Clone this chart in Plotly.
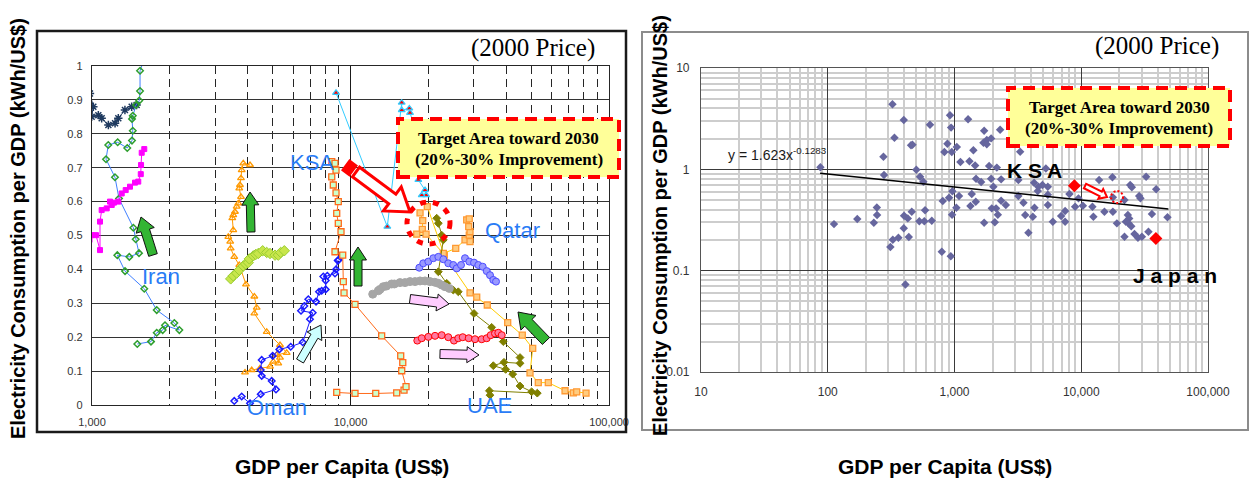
import math
import plotly.graph_objects as go

W, H = 1250, 484

# ---------------- Left panel: country trajectories (GDP per capita vs kWh/US$) ----------------
navy_x = [982, 1012, 997, 1058, 1090, 1157, 1228, 1264, 1341, 1424, 1488]
navy_y = [0.919, 0.880, 0.850, 0.855, 0.846, 0.826, 0.831, 0.846, 0.870, 0.880, 0.885]

iran_x = [1497, 1691, 1780, 1877, 1916, 2177, 2082, 1780, 1593, 1342, 1253, 1394, 1520, 1476,
          1445, 1272, 1227, 1133, 1156, 1257, 1369, 1428, 1438, 1428, 1438, 1480, 1524, 1534, 1534, 1589]
iran_y = [0.180, 0.187, 0.213, 0.221, 0.235, 0.221, 0.242, 0.280, 0.343, 0.395, 0.442, 0.437, 0.448, 0.489,
          0.523, 0.609, 0.672, 0.725, 0.767, 0.775, 0.758, 0.780, 0.809, 0.844, 0.853, 0.885, 0.898, 0.926, 0.986, 1.018]

magenta_x = [978, 997, 1036, 1074, 1074, 1090, 1140, 1192, 1174, 1216, 1264, 1303, 1350, 1403,
             1467, 1510, 1544, 1548, 1557, 1593]
magenta_y = [0.487, 0.501, 0.501, 0.457, 0.541, 0.575, 0.580, 0.590, 0.600, 0.597, 0.600, 0.624, 0.634, 0.644,
             0.656, 0.659, 0.681, 0.708, 0.744, 0.755]

orange_tri_x = [3908, 4148, 4466, 4883, 5028, 5256, 5337, 5182, 5665, 5337, 4741, 4246, 4337, 4246, 3942,
                3713, 3551, 3440, 3425, 3367, 3520, 3489, 3520, 3573, 3628, 3681, 3770, 3713, 3736, 3770,
                3794, 3848, 4086]
orange_tri_y = [0.096, 0.103, 0.108, 0.113, 0.128, 0.123, 0.140, 0.148, 0.154, 0.177, 0.216, 0.270, 0.287,
                0.320, 0.356, 0.413, 0.437, 0.462, 0.482, 0.496, 0.516, 0.551, 0.560, 0.570, 0.585, 0.595,
                0.614, 0.639, 0.649, 0.669, 0.693, 0.713, 0.708]

lime_x = [3440, 3520, 3628, 3713, 3848, 3930, 4024, 4061, 4207, 4300, 4399, 4574, 4741, 4883, 5105, 5256, 5370, 5546]
lime_y = [0.372, 0.381, 0.389, 0.398, 0.410, 0.416, 0.420, 0.431, 0.440, 0.444, 0.447, 0.455, 0.450, 0.447,
          0.442, 0.442, 0.450, 0.455]

oman_x = [3551, 3794, 4086, 4494, 5150, 4957, 4534, 4494, 4534, 5000, 5304, 5871, 6533, 6970, 7142, 6435,
          6627, 6867, 7356, 7555, 7738, 8019, 8019, 7849, 8134, 8710, 8790, 8925, 9000]
oman_y = [0.012, 0.025, 0.005, 0.032, 0.046, 0.071, 0.086, 0.103, 0.133, 0.145, 0.164, 0.172, 0.185, 0.253,
          0.272, 0.278, 0.292, 0.312, 0.305, 0.334, 0.337, 0.341, 0.367, 0.379, 0.381, 0.388, 0.400, 0.426, 0.428]

ksa_x = [8845, 10410, 12520, 15090, 16110, 16400, 15780, 15930, 15640, 13200, 10410, 9440, 9380, 9330,
         8710, 9190, 8970, 8845, 8970, 8790, 8580, 8460, 8790, 8460, 8710]
ksa_y = [0.037, 0.034, 0.034, 0.036, 0.044, 0.054, 0.101, 0.125, 0.145, 0.204, 0.297, 0.331, 0.364, 0.442,
         0.452, 0.511, 0.536, 0.565, 0.600, 0.626, 0.649, 0.673, 0.693, 0.718, 0.713]

cyan_x = [8790, 13880, 15780, 15780, 16890, 16990, 17600, 18300, 19420, 19620, 18860]
cyan_y = [0.921, 0.526, 0.892, 0.870, 0.875, 0.862, 0.826, 0.664, 0.634, 0.619, 0.619]

gold_x = [19820, 23060, 29000, 30780, 33820, 40560, 46190, 50680, 49480, 53270, 58240, 67600, 72770, 75000, 81500]
gold_y = [0.585, 0.442, 0.331, 0.318, 0.295, 0.243, 0.206, 0.167, 0.095, 0.066, 0.066, 0.042, 0.036, 0.039, 0.035]

qatar_x = [18580, 19030, 18960, 18040, 19600, 22860, 25530, 27730, 29000, 28800, 29000, 28660, 28150, 28800]
qatar_y = [0.567, 0.544, 0.518, 0.504, 0.504, 0.447, 0.462, 0.487, 0.482, 0.501, 0.511, 0.526, 0.546, 0.549]

uae_x = [34650, 34450, 52800, 50200, 45270, 42420, 39840, 35680, 39240, 45270, 45270, 38990, 35170, 30050,
         26120, 24980, 23560, 21870, 22860, 22530, 21870, 21550]
uae_y = [0.029, 0.042, 0.035, 0.039, 0.056, 0.091, 0.105, 0.116, 0.126, 0.123, 0.140, 0.187, 0.229, 0.270,
         0.334, 0.339, 0.359, 0.393, 0.487, 0.501, 0.536, 0.551]

gray_x = [12190, 12810, 13000, 13390, 13780, 14430, 14780, 15540, 16250, 16990, 17770, 18580, 19420,
          20300, 21200, 21870, 22530, 23210, 24110]
gray_y = [0.327, 0.337, 0.341, 0.349, 0.351, 0.357, 0.357, 0.361, 0.361, 0.364, 0.364, 0.366, 0.366,
          0.364, 0.362, 0.359, 0.354, 0.349, 0.344]

violet_x = [18460, 19120, 20000, 20910, 21870, 22860, 23890, 24980, 25760, 26760, 27730, 28820, 30050,
            31220, 32470, 33650, 34650, 35680, 36550]
violet_y = [0.405, 0.418, 0.423, 0.433, 0.437, 0.430, 0.418, 0.413, 0.403, 0.413, 0.433, 0.423, 0.420,
            0.413, 0.408, 0.395, 0.383, 0.369, 0.364]

red_x = [18130, 18860, 20000, 21230, 22530, 23890, 25140, 26120, 27170, 28660, 30310, 32180, 33650,
         34860, 36220, 37310, 38460]
red_y = [0.190, 0.197, 0.201, 0.204, 0.206, 0.200, 0.190, 0.197, 0.200, 0.197, 0.194, 0.194, 0.197,
         0.206, 0.211, 0.213, 0.206]

# ---------------- Right panel: cross-country scatter ----------------
world_x = [324, 398, 336, 641, 922, 940, 1280, 466, 454, 275, 87.5, 278, 500, 535, 568, 879, 832, 952, 1043,
           1714, 2291, 1691, 1798, 1945, 1798, 1409, 1114, 1312, 1455, 1875, 2157, 1479, 1622, 1945, 2333,
           2027, 962, 906, 808, 1086, 1035, 1368, 1472, 1336, 957, 1968, 2128, 2541, 2333, 2198, 1714, 2080,
           244, 245, 171, 112, 231, 460, 400, 428, 586, 528, 578, 662, 398, 361, 326, 436, 312, 794, 935, 410,
           3296, 5260, 3190, 4246, 4590, 4940, 5450, 4540, 5450, 3190, 3500, 4276, 5450, 3614, 4150, 5970,
           6940, 7460, 7460, 3830, 8070, 8950, 10300, 9510, 12250, 12470, 13830, 17620, 15240, 17770, 19110,
           21930, 24330, 25070, 28640, 29300, 32500, 39000, 36100, 47900, 21930, 23320, 23900, 23600, 24800,
           26300, 28000, 30100, 33900, 22500, 17770]
world_y = [4.38, 3.07, 2.05, 2.76, 3.41, 2.58, 3.12, 1.75, 1.73, 1.33, 1.05, 0.879, 0.99, 0.845, 0.755, 1.79,
           1.48, 1.48, 1.66, 2.40, 2.46, 1.83, 1.95, 2.02, 1.77, 1.54, 1.18, 1.20, 1.09, 1.08, 1.04, 0.807,
           0.75, 0.807, 0.796, 0.673, 0.607, 0.525, 0.486, 0.545, 0.418, 0.570, 0.479, 0.434, 0.356, 0.412,
           0.412, 0.444, 0.490, 0.356, 0.297, 0.300, 0.421, 0.354, 0.323, 0.288, 0.297, 0.381, 0.348, 0.328,
           0.394, 0.307, 0.307, 0.311, 0.262, 0.211, 0.202, 0.215, 0.171, 0.154, 0.139, 0.073,
           1.49, 1.02, 0.784, 0.738, 0.673, 0.700, 0.673, 0.611, 0.561, 0.545, 0.468, 0.418, 0.444, 0.354,
           0.340, 0.304, 0.346, 0.388, 0.304, 0.237, 0.570, 0.428, 0.437, 0.517, 0.428, 0.340, 0.784, 0.834,
           0.381, 0.381, 0.293, 0.497, 0.700, 0.664, 0.545, 0.517, 0.845, 0.635, 0.362, 0.336, 0.216, 0.354,
           0.328, 0.293, 0.275, 0.230, 0.211, 0.216, 0.242, 0.304, 0.529]

highlight_names = ["KSA", "Japan"]
highlight_x = [8830, 38800]
highlight_y = [0.689, 0.208]

fit_a, fit_b = 1.623, -0.1283
fit_x = [87, 300, 1000, 3000, 10000, 30000, 48700]
fit_y = [fit_a * v ** fit_b for v in fit_x]

# axis ticks: decades carry labels and dark gridlines, the in-between values get minor gridlines
left_xmajor = [1000, 10000, 100000]
left_xtext = ["1,000", "10,000", "100,000"]
left_xminor = [d * k for d in (1000, 10000) for k in range(2, 10)]
right_xmajor = [10, 100, 1000, 10000, 100000]
right_xtext = ["10", "100", "1,000", "10,000", "100,000"]
right_xminor = [d * k for d in (10, 100, 1000, 10000) for k in range(2, 10)]
right_ymajor = [0.01, 0.1, 1, 10]
right_ytext = ["0.01", "0.1", "1", "10"]
right_yminor = [d * k for d in (0.01, 0.1, 1) for k in range(2, 10)]

SANS = "Liberation Sans, Arial, sans-serif"
SERIF = "Liberation Serif, Times New Roman, serif"

fig = go.Figure()


def traj(x, y, symbol, size, fill, edge, line_color, edge_w=1.0, line_w=1.0, mode="lines+markers"):
    fig.add_trace(go.Scatter(
        x=x, y=y, mode=mode, xaxis="x", yaxis="y",
        line=dict(color=line_color, width=line_w),
        marker=dict(symbol=symbol, size=size, color=fill, line=dict(color=edge, width=edge_w)),
        hoverinfo="skip", showlegend=False))


traj(navy_x, navy_y, "asterisk-open", 7, "#1f3a5f", "#1f3a5f", "#1f3a5f", edge_w=1.5)
traj(iran_x, iran_y, "diamond-open", 5, "#2e9e2e", "#2e9e2e", "#3f7fff", edge_w=1.5)
traj(magenta_x, magenta_y, "square", 5, "#ff00ff", "#ff00ff", "#ff00ff")
traj(orange_tri_x, orange_tri_y, "triangle-up-open", 6, "#ff9900", "#ff9900", "#ff9900", edge_w=1.3)
traj(lime_x, lime_y, "diamond", 8, "#c8e64b", "#9acd32", "#9acd32")
traj(oman_x, oman_y, "diamond-open", 5, "#1a1aff", "#1a1aff", "#1a1aff", edge_w=1.5)
traj(ksa_x, ksa_y, "square", 6, "#ccffcc", "#ff6a1a", "#ff6a1a", edge_w=1.3)
traj(cyan_x, cyan_y, "triangle-up", 6, "#ff0000", "#33ccff", "#33ccff", edge_w=1.2)
traj(gold_x, gold_y, "square", 6, "#ffcc80", "#ff9933", "#ffcc00", edge_w=1.3)
traj(qatar_x, qatar_y, "square", 6, "#ffcc80", "#ff9933", "#ffcc00", edge_w=1.3)
traj(uae_x, uae_y, "diamond", 6, "#808000", "#808000", "#808000")
traj(gray_x, gray_y, "circle", 8, "#a6a6a6", "#a6a6a6", "#a6a6a6", mode="markers")
traj(violet_x, violet_y, "circle", 7, "#9999ff", "#4d4dff", "#4d4dff")
traj(red_x, red_y, "circle", 7, "#ff7aa0", "#ff0000", "#ff0000")

# right panel
fig.add_trace(go.Scatter(x=world_x, y=world_y, mode="markers", xaxis="x2", yaxis="y2",
                         marker=dict(symbol="diamond", size=6.5, color="#66669e"),
                         hoverinfo="skip", showlegend=False))
fig.add_trace(go.Scatter(x=fit_x, y=fit_y, mode="lines", xaxis="x2", yaxis="y2",
                         line=dict(color="#000000", width=1.5), hoverinfo="skip", showlegend=False))
fig.add_trace(go.Scatter(x=highlight_x, y=highlight_y, text=highlight_names, mode="markers",
                         xaxis="x2", yaxis="y2",
                         marker=dict(symbol="diamond", size=10, color="#ff0000"),
                         hoverinfo="skip", showlegend=False))


def P(px, py):
    return px / W, 1 - py / H


def poly_path(pts):
    s = ""
    for i, (px, py) in enumerate(pts):
        x, y = P(px, py)
        s += ("M" if i == 0 else "L") + f"{x:.5f},{y:.5f} "
    return s + "Z"


def block_arrow(tail, tip, shaft, head, head_len):
    dx, dy = tip[0] - tail[0], tip[1] - tail[1]
    L = math.hypot(dx, dy)
    ux, uy = dx / L, dy / L
    nx, ny = -uy, ux
    neck = (tip[0] - ux * head_len, tip[1] - uy * head_len)
    s, h = shaft / 2, head / 2
    return [
        (tail[0] + nx * s, tail[1] + ny * s),
        (neck[0] + nx * s, neck[1] + ny * s),
        (neck[0] + nx * h, neck[1] + ny * h),
        tip,
        (neck[0] - nx * h, neck[1] - ny * h),
        (neck[0] - nx * s, neck[1] - ny * s),
        (tail[0] - nx * s, tail[1] - ny * s),
    ]


shapes = []


def rect_px(x0, y0, x1, y1, **kw):
    a, b = P(x0, y1)
    c, d = P(x1, y0)
    shapes.append(dict(type="rect", xref="paper", yref="paper", x0=a, y0=b, x1=c, y1=d, **kw))


def arrow(tail, tip, shaft, head, head_len, fill, edge, width=1.0):
    shapes.append(dict(type="path", xref="paper", yref="paper",
                       path=poly_path(block_arrow(tail, tip, shaft, head, head_len)),
                       fillcolor=fill, line=dict(color=edge, width=width)))


# panel frames
rect_px(37, 31, 626, 432, line=dict(color="#1a1a1a", width=2.5), fillcolor="rgba(0,0,0,0)")
rect_px(642, 32, 1248, 430, line=dict(color="#8c8c8c", width=2), fillcolor="rgba(0,0,0,0)")

# direction arrows
arrow((153, 255), (141, 217), 9, 19, 14, "#33b533", "#111111")
arrow((251, 232), (250, 192), 8, 17, 13, "#33b533", "#111111")
arrow((358, 286), (358, 247), 8, 17, 13, "#33b533", "#111111")
arrow((546, 341), (518, 312), 10, 21, 15, "#33b533", "#111111")
arrow((300, 361), (321, 325), 8, 17, 13, "#ccffff", "#111111")
arrow((410, 299), (449, 304), 9, 17, 12, "#ffccff", "#111111")
arrow((440, 354), (479, 355), 9, 16, 12, "#ffccff", "#111111")
# hollow red arrows toward the target area
arrow((356, 172), (410, 212), 12, 30, 22, "#ffffff", "#ff0000", width=3)
arrow((346, 165.3), (353, 170.5), 12, 12, 0.01, "#ff0000", "#ff0000", width=2)
arrow((1085, 186), (1107, 197), 5, 11, 7, "#ffffff", "#ff0000", width=2)

# dotted target circles
a, b = P(407, 244)
c, d = P(450, 202)
shapes.append(dict(type="circle", xref="paper", yref="paper", x0=a, y0=b, x1=c, y1=d,
                   line=dict(color="#ff0000", width=5, dash="6px,7px")))
a, b = P(1111, 203)
c, d = P(1123, 191)
shapes.append(dict(type="circle", xref="paper", yref="paper", x0=a, y0=b, x1=c, y1=d,
                   line=dict(color="#ff0000", width=2, dash="2px,2px")))

# target boxes
rect_px(398, 119, 619, 177, fillcolor="#ffff99", line=dict(color="#ff0000", width=4, dash="12px,7px"))
rect_px(1008, 88, 1230, 146, fillcolor="#ffff99", line=dict(color="#ff0000", width=4, dash="12px,7px"))

annotations = []


def text_px(px, py, txt, size, color="#000000", family=SANS, angle=0, xanchor="center"):
    x, y = P(px, py)
    annotations.append(dict(xref="paper", yref="paper", x=x, y=y, text=txt, showarrow=False,
                            textangle=angle, xanchor=xanchor, yanchor="middle",
                            font=dict(size=size, color=color, family=family)))


text_px(508.5, 138, "<b>Target Area toward 2030</b>", 17, family=SERIF)
text_px(508.5, 159, "<b>(20%-30% Improvement)</b>", 17, family=SERIF)
text_px(1119, 107, "<b>Target Area toward 2030</b>", 17, family=SERIF)
text_px(1119, 128, "<b>(20%-30% Improvement)</b>", 17, family=SERIF)
text_px(533, 48, "(2000 Price)", 25, family=SERIF)
text_px(1157, 46, "(2000 Price)", 25, family=SERIF)

blue = "#2a7cf6"
text_px(312, 162, "KSA", 22, blue)
text_px(512, 230, "Qatar", 22, blue)
text_px(161, 276, "Iran", 22, blue)
text_px(277, 407, "Oman", 22, blue)
text_px(489, 405, "UAE", 22, blue)

text_px(1034, 170, "<b>K S A</b>", 21)
text_px(1175, 275, "<b>J a p a n</b>", 21)
text_px(726, 154, "y = 1.623x<sup>-0.1283</sup>", 14, "#1a1a1a", xanchor="left")

ytitle = "<b>Electricity Consumption per GDP (kWh/US$)</b>"
xtitle = "<b>GDP per Capita (US$)</b>"
text_px(18, 229, ytitle, 20, angle=-90)
text_px(660, 226, ytitle, 20, angle=-90)
text_px(342, 466, xtitle, 21)
text_px(945, 466, xtitle, 21)

fig.update_layout(
    width=W, height=H, margin=dict(l=0, r=0, t=0, b=0, autoexpand=False),
    paper_bgcolor="#ffffff", plot_bgcolor="#ffffff", showlegend=False,
    font=dict(family=SANS),
    xaxis=dict(type="log", range=[3, 5], domain=[92 / W, 609 / W], anchor="y", automargin=False,
               tickmode="array", tickvals=left_xmajor, ticktext=left_xtext, ticks="", showgrid=True,
               gridcolor="#1a1a1a", gridwidth=1.3, zeroline=False,
               minor=dict(tickmode="array", tickvals=left_xminor, showgrid=True, ticks="",
                          gridcolor="#262626", gridwidth=1.2, griddash="8px,5px"),
               showline=True, linecolor="#262626", linewidth=1.3, mirror=True,
               tickfont=dict(size=11, color="#333333"), ticklabelstandoff=7),
    yaxis=dict(range=[0, 1], dtick=0.1, domain=[1 - 405 / H, 1 - 66 / H], anchor="x", automargin=False,
               ticks="", showgrid=True, gridcolor="#333333", gridwidth=1.3, zeroline=False,
               showline=True, linecolor="#262626", linewidth=1.3, mirror=True,
               tickfont=dict(size=11, color="#333333"), ticklabelstandoff=6),
    xaxis2=dict(type="log", range=[1, 5], domain=[701 / W, 1208 / W], anchor="y2", automargin=False,
                tickmode="array", tickvals=right_xmajor, ticktext=right_xtext, ticks="", showgrid=True,
                gridcolor="#3a3a3a", gridwidth=1, zeroline=False,
                minor=dict(tickmode="array", tickvals=right_xminor, showgrid=True, ticks="",
                           gridcolor="#cdcdcd", gridwidth=1.5),
                showline=True, linecolor="#555555", linewidth=1.2, mirror=True,
                tickfont=dict(size=12, color="#333333"), ticklabelstandoff=8),
    yaxis2=dict(type="log", range=[-2, 1], domain=[1 - 372 / H, 1 - 68 / H], anchor="x2", automargin=False,
                tickmode="array", tickvals=right_ymajor, ticktext=right_ytext, ticks="", showgrid=True,
                gridcolor="#3a3a3a", gridwidth=1, zeroline=False,
                minor=dict(tickmode="array", tickvals=right_yminor, showgrid=True, ticks="",
                           gridcolor="#cdcdcd", gridwidth=1.5),
                showline=True, linecolor="#555555", linewidth=1.2, mirror=True,
                tickfont=dict(size=12, color="#333333"), ticklabelstandoff=8),
    shapes=shapes, annotations=annotations,
)

fig.write_html("out.html")
